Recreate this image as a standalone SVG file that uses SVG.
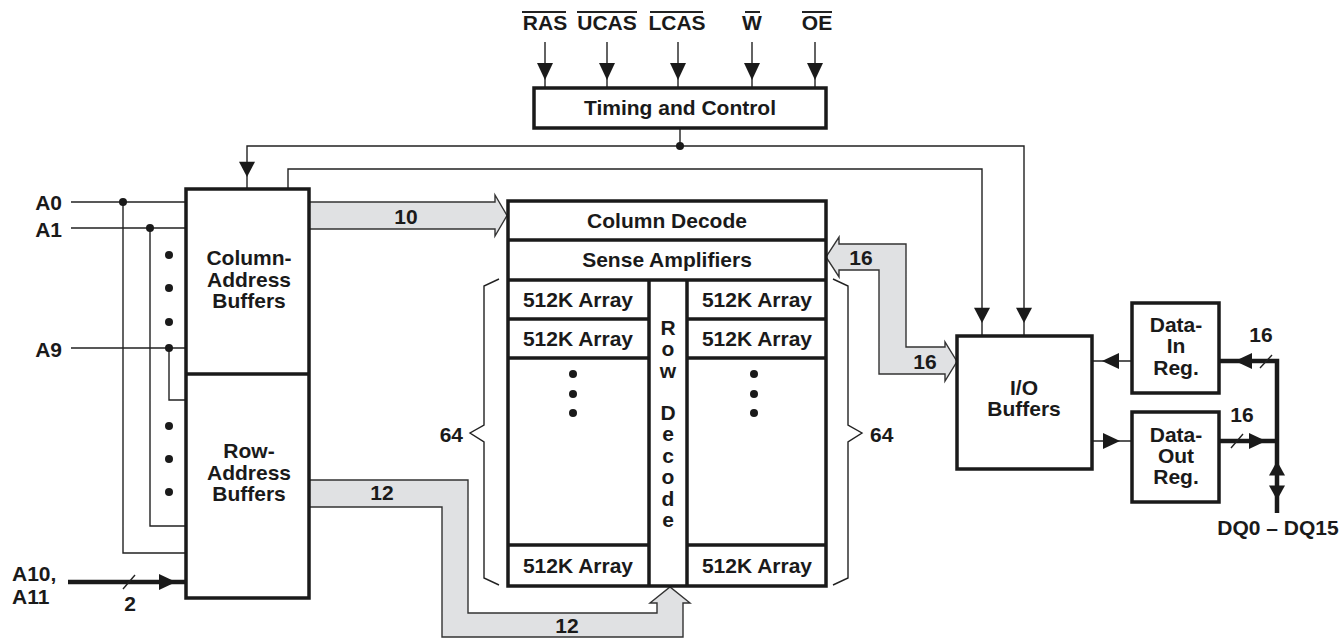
<svg xmlns="http://www.w3.org/2000/svg" xmlns:xlink="http://www.w3.org/1999/xlink" width="1342" height="639" viewBox="0 0 1342 639">
<style>
.box{fill:#fff;stroke:#1a1a1a;stroke-width:3.5}
.div{fill:none;stroke:#1a1a1a;stroke-width:3.5}
.thin{fill:none;stroke:#222;stroke-width:1.4}
.thick{fill:none;stroke:#1a1a1a;stroke-width:4.5}
.bus{fill:#e0e1e3;stroke:#333;stroke-width:1.4;stroke-linejoin:miter}
.ah{fill:#1a1a1a;stroke:none}
.dot{fill:#1a1a1a}
.t{font-family:"Liberation Sans",Arial,sans-serif;font-weight:bold;font-size:21px;fill:#1a1a1a;text-anchor:middle}
.l{text-anchor:start}
.r{text-anchor:end}
</style>
<defs>
<path id="ad" d="M-8,-17 L8,-17 L0,0 Z"/>
</defs>

<g id="connectors">
  <!-- control signals into timing -->
  <path class="thin" d="M545,42 V88 M607,42 V88 M678,42 V88 M752,42 V88 M815,42 V88"/>
  <g class="ah">
    <use xlink:href="#ad" transform="translate(545,80)"/>
    <use xlink:href="#ad" transform="translate(607,80)"/>
    <use xlink:href="#ad" transform="translate(678,80)"/>
    <use xlink:href="#ad" transform="translate(752,80)"/>
    <use xlink:href="#ad" transform="translate(815,80)"/>
  </g>
  <!-- timing outputs -->
  <path class="thin" d="M680,128 V146 M247,189 V146 H1024 V336 M288,189 V169 H982 V336"/>
  <circle class="dot" cx="680" cy="146" r="4"/>
  <g class="ah">
    <use xlink:href="#ad" transform="translate(247,177) scale(1,0.9)"/>
    <use xlink:href="#ad" transform="translate(982,323) scale(1,0.9)"/>
    <use xlink:href="#ad" transform="translate(1024,323) scale(1,0.9)"/>
  </g>
  <!-- address inputs -->
  <path class="thin" d="M71,202 H186 M71,228 H186 M71,348 H186 M123,202 V553 H186 M150,228 V526 H186 M169,348 V400 H186"/>
  <g class="dot">
    <circle cx="123" cy="202" r="4"/>
    <circle cx="150" cy="228" r="4"/>
    <circle cx="169" cy="348" r="4"/>
    <circle cx="169" cy="255" r="4"/>
    <circle cx="169" cy="288" r="4"/>
    <circle cx="169" cy="322" r="4"/>
    <circle cx="169" cy="426" r="4"/>
    <circle cx="169" cy="459" r="4"/>
    <circle cx="169" cy="492" r="4"/>
  </g>
  <!-- A10, A11 -->
  <path class="thick" d="M68,582 H186"/>
  <use class="ah" xlink:href="#ad" transform="translate(176,582) rotate(-90)"/>
  <path class="thin" d="M123,589 L135,575"/>
  <!-- buses -->
  <polygon class="bus" points="309,202 495,202 495,195 507,215.5 495,236 495,229 309,229"/>
  <polygon class="bus" points="309,480 468,480 468,613 657,613 657,603 650,603 670,587 690,603 683,603 683,637 442,637 442,507 309,507"/>
  <polygon class="bus" points="826,257 839,237 839,244 906,244 906,347 945,347 945,342 957,361.5 945,381 945,374 879,374 879,270 839,270 839,277"/>
  <!-- braces -->
  <path class="thin" d="M499,279 L484,286 V425 L470,433 L484,442 V578 L499,585"/>
  <path class="thin" d="M833,279 L848,286 V425 L862,433 L848,442 V578 L833,585"/>
  <!-- I/O to data registers -->
  <path class="thin" d="M1092,361 H1132 M1092,441 H1132"/>
  <use class="ah" xlink:href="#ad" transform="translate(1102,361) rotate(90)"/>
  <use class="ah" xlink:href="#ad" transform="translate(1120,441) rotate(-90)"/>
  <!-- data bus -->
  <path class="thick" d="M1219,361 H1277 V513 M1219,441 H1277"/>
  <use class="ah" xlink:href="#ad" transform="translate(1235,361) rotate(90)"/>
  <use class="ah" xlink:href="#ad" transform="translate(1266,441) rotate(-90)"/>
  <use class="ah" xlink:href="#ad" transform="translate(1277,461) rotate(180) scale(1,0.85)"/>
  <use class="ah" xlink:href="#ad" transform="translate(1277,500) scale(1,0.85)"/>
  <path class="thin" d="M1260,368 L1272,355 M1231,448 L1243,434"/>
</g>

<g id="signals">
  <path class="thin" style="stroke-width:1.8" d="M522,12 H566 M577,12 H637 M650,12 H703 M745,12 H760 M802,12 H832"/>
  <text class="t" x="545" y="30">RAS</text>
  <text class="t" x="607" y="30">UCAS</text>
  <text class="t" x="677" y="30">LCAS</text>
  <text class="t" x="752" y="30">W</text>
  <text class="t" x="817" y="30">OE</text>
</g>

<g id="timing">
  <rect class="box" x="534" y="88" width="292" height="40"/>
  <text class="t" x="680" y="115">Timing and Control</text>
</g>

<g id="address-buffers">
  <rect class="box" x="186" y="189" width="123" height="409"/>
  <path class="div" d="M186,374 H309"/>
  <text class="t" x="249" y="265">Column-</text>
  <text class="t" x="249" y="287">Address</text>
  <text class="t" x="249" y="308">Buffers</text>
  <text class="t" x="249" y="458">Row-</text>
  <text class="t" x="249" y="480">Address</text>
  <text class="t" x="249" y="501">Buffers</text>
</g>

<g id="address-labels">
  <text class="t r" x="62" y="210">A0</text>
  <text class="t r" x="62" y="237">A1</text>
  <text class="t r" x="62" y="357">A9</text>
  <text class="t l" x="12" y="581">A10,</text>
  <text class="t l" x="12" y="604">A11</text>
  <text class="t" x="130" y="611">2</text>
</g>

<g id="bus-labels">
  <text class="t" x="406" y="224">10</text>
  <text class="t" x="382" y="500">12</text>
  <text class="t" x="567" y="633">12</text>
  <text class="t" x="861" y="265">16</text>
  <text class="t" x="925" y="369">16</text>
  <text class="t r" x="463" y="442">64</text>
  <text class="t l" x="870" y="442">64</text>
</g>

<g id="memory">
  <rect class="box" x="508" y="201" width="318" height="385"/>
  <path class="div" d="M508,240 H826 M508,280 H826 M649,280 V586 M687,280 V586 M508,319 H649 M508,358 H649 M508,545 H649 M687,319 H826 M687,358 H826 M687,545 H826"/>
  <text class="t" x="667" y="228">Column Decode</text>
  <text class="t" x="667" y="267">Sense Amplifiers</text>
  <text class="t" x="578" y="307">512K Array</text>
  <text class="t" x="578" y="346">512K Array</text>
  <text class="t" x="578" y="573">512K Array</text>
  <text class="t" x="757" y="307">512K Array</text>
  <text class="t" x="757" y="346">512K Array</text>
  <text class="t" x="757" y="573">512K Array</text>
  <g class="dot">
    <circle cx="573" cy="374" r="4"/>
    <circle cx="573" cy="394" r="4"/>
    <circle cx="573" cy="413" r="4"/>
    <circle cx="754" cy="374" r="4"/>
    <circle cx="754" cy="394" r="4"/>
    <circle cx="754" cy="413" r="4"/>
  </g>
  <text class="t" x="668" y="335">R</text>
  <text class="t" x="668" y="356">o</text>
  <text class="t" x="668" y="378">w</text>
  <text class="t" x="668" y="420">D</text>
  <text class="t" x="668" y="441">e</text>
  <text class="t" x="668" y="463">c</text>
  <text class="t" x="668" y="484">o</text>
  <text class="t" x="668" y="506">d</text>
  <text class="t" x="668" y="527">e</text>
</g>

<g id="io-buffers">
  <rect class="box" x="957" y="336" width="135" height="133"/>
  <text class="t" x="1024" y="395">I/O</text>
  <text class="t" x="1024" y="416">Buffers</text>
</g>

<g id="data-in">
  <rect class="box" x="1132" y="303" width="87" height="90"/>
  <text class="t" x="1176" y="332">Data-</text>
  <text class="t" x="1176" y="353">In</text>
  <text class="t" x="1176" y="375">Reg.</text>
</g>

<g id="data-out">
  <rect class="box" x="1132" y="412" width="87" height="90"/>
  <text class="t" x="1176" y="442">Data-</text>
  <text class="t" x="1176" y="463">Out</text>
  <text class="t" x="1176" y="484">Reg.</text>
</g>

<g id="data-labels">
  <text class="t" x="1261" y="342">16</text>
  <text class="t" x="1242" y="422">16</text>
  <text class="t" x="1278" y="535">DQ0 – DQ15</text>
</g>
</svg>
